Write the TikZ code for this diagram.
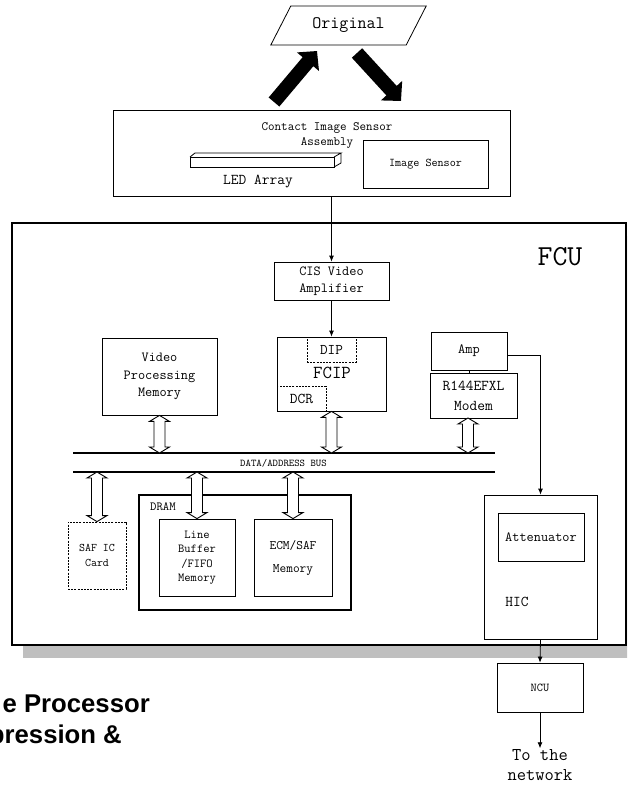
\documentclass[tikz,border=0pt]{standalone}
\usepackage{fontspec}
\newfontfamily\titlefont{Liberation Sans}
\usetikzlibrary{arrows.meta,positioning,shapes.geometric,calc}

\newcommand{\fs}[2]{\ttfamily\fontsize{#1}{#2}\selectfont}
% hollow two-headed arrow between two named points
\newcommand{\busarrow}[2]{%
  \draw[busline] (#1) -- ($(#1)!6pt!(#2)+(10pt,0)$) -- ($(#1)!6pt!(#2)+(5.5pt,0)$)
    -- ($(#2)!6pt!(#1)+(5.5pt,0)$) -- ($(#2)!6pt!(#1)+(10pt,0)$) -- (#2)
    -- ($(#2)!6pt!(#1)+(-10pt,0)$) -- ($(#2)!6pt!(#1)+(-5.5pt,0)$)
    -- ($(#1)!6pt!(#2)+(-5.5pt,0)$) -- ($(#1)!6pt!(#2)+(-10pt,0)$) -- cycle;}

\tikzset{
  box/.style={draw, line width=0.8pt, inner sep=0pt, align=center},
  dashbox/.style={box, dash pattern=on 2pt off 1.2pt},
  sig/.style={-{Latex[length=6pt,width=5pt]}, line width=0.8pt},
  busline/.style={line width=0.9pt, fill=white, line join=miter},
  bigarrow/.style={line width=14pt, -{Triangle[length=14pt,width=28pt]}},
}

\begin{document}
\begin{tikzpicture}[x=1pt, y=-1pt]

            \useasboundingbox (0,0) rectangle (627,787);
            \clip (0,0) rectangle (627,787);

            % Original and the scanner
            \node[draw, line width=0.8pt, trapezium, trapezium left angle=50, trapezium right angle=130,
                  trapezium stretches=true, minimum width=157, minimum height=39, inner sep=0pt,
                  font=\fs{17.5}{18}] (orig) at (348.5,25.5) {Original};
            \node[box, minimum width=397, minimum height=86] (cis) at (311.5,153) {};
            \node[align=center, font=\fs{12.7}{15}] (cislabel) at (327,135) {Contact Image Sensor\\Assembly};
            \node[box, minimum width=125, minimum height=48, font=\fs{11.8}{12}] (sensor) at (425.5,164) {Image Sensor};
            \draw[line width=0.8pt] (190,157) rectangle (334,167);
            \draw[line width=0.8pt] (190,157) -- (195,153) -- (341,153) -- (334,157)
                  (341,153) -- (341,163) -- (334,167);
            \node[font=\fs{15}{15}] (ledlabel) at (258,182) {LED Array};
            \coordinate (lightfrom) at (274,102);
            \coordinate (lightto) at (317,51);
            \coordinate (reflfrom) at (357,53);
            \coordinate (reflto) at (401,101);
            \draw[bigarrow] (lightfrom) -- (lightto);
            \draw[bigarrow] (reflfrom) -- (reflto);

            % FCU frame with its shadow
            \fill[black!25] (23,236) rectangle (640,658);
            \draw[line width=2.5pt, fill=white] (12,223) rectangle (626,645);
            \node[font=\fs{29}{30}] (fcu) at (560,257) {FCU};

            \node[box, minimum width=115, minimum height=38, font=\fs{13.9}{17}] (cisamp) at (331.5,281) {CIS Video\\Amplifier};
            \node[box, minimum width=109, minimum height=74] (fcip) at (331.5,374) {};
            \node[font=\fs{18.3}{19}] (fciplabel) at (332,373) {FCIP};
            \node[dashbox, minimum width=49, minimum height=25, font=\fs{14.8}{15}] (dip) at (331.5,349.5) {DIP};
            \node[dashbox, minimum width=49, minimum height=25, font=\fs{15}{15}] (dcr) at (301.5,398.5) {DCR};
            \node[box, minimum width=115, minimum height=77, font=\fs{13.9}{17.5}] (vpm) at (159.5,376.5) {Video\\Processing\\Memory};
            \node[box, minimum width=76, minimum height=38, font=\fs{14}{14}] (amp) at (469,351) {Amp};
            \node[box, minimum width=87, minimum height=45, font=\fs{15}{20}] (modem) at (473.5,395.5) {R144EFXL\\Modem};
            \coordinate (modemport) at (468,418);

            \draw[sig] (cis.south -| cisamp.north) -- (cisamp.north);
            \draw[sig] (cisamp.south) -- (fcip.north);
            \draw[line width=0.8pt] (amp.south) -- (amp.south |- modem.north);

            % bus
            \coordinate (bustop) at (73,453);
            \coordinate (busbot) at (73,472);
            \draw[line width=1.2pt] (bustop) -- ++(422,0);
            \draw[line width=1.2pt] (busbot) -- ++(422,0);
            \node[font=\fs{10.3}{11}] (bus) at (283.5,463) {DATA/ADDRESS BUS};

            \node[dashbox, minimum width=58, minimum height=67, font=\fs{11.6}{15}] (saf) at (97,555.5) {SAF IC\\Card};
            \node[box, line width=2pt, minimum width=212, minimum height=115] (dram) at (245,552.5) {};
            \node[anchor=west, font=\fs{12.4}{12}, inner sep=0pt] (dramlabel) at (150,507) {DRAM};
            \node[box, minimum width=76, minimum height=77, font=\fs{12.2}{14.5}] (linebuf) at (197,557.5) {Line\\Buffer\\/FIFO\\Memory};
            \node[box, minimum width=78, minimum height=77, font=\fs{13}{23}] (ecm) at (293,557.5) {ECM/SAF\\Memory};

            \busarrow{vpm.south}{vpm.south |- bustop}
            \busarrow{fcip.south}{fcip.south |- bustop}
            \busarrow{modemport}{modemport |- bustop}
            \busarrow{saf.north |- busbot}{saf.north}
            \busarrow{linebuf.north |- busbot}{linebuf.north}
            \busarrow{ecm.north |- busbot}{ecm.north}

            % line side
            \node[box, minimum width=113, minimum height=144] (hic) at (540.5,567) {};
            \node[box, minimum width=86, minimum height=48, font=\fs{13.9}{14}] (att) at (541,537) {Attenuator};
            \node[font=\fs{15}{15}] (hiclabel) at (517,602) {HIC};
            \draw[sig] ([yshift=-4pt]amp.east) -| (hic.north);
            \node[box, minimum width=86, minimum height=49, font=\fs{12}{12}] (ncu) at (540,687.5) {NCU};
            \draw[sig] (hic.south) -- (ncu.north);
            \node[align=center, font=\fs{18}{20}, inner sep=1pt] (net) at (540,765) {To the\\network};
            \draw[sig] (ncu.south) -- (ncu.south |- net.north);

            % cut off title text
            \node[anchor=base east, inner sep=0pt, font=\titlefont\bfseries\fontsize{25.7}{28}\selectfont] (title1) at (150,712) {e Processor};
            \node[anchor=base east, inner sep=0pt, font=\titlefont\bfseries\fontsize{25.7}{28}\selectfont] (title2) at (122,743) {pression \&};
        \end{tikzpicture}
\end{document}
